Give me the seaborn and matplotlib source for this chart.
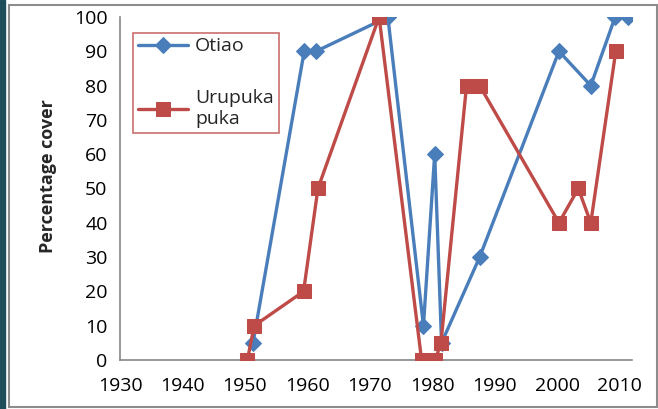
import matplotlib
matplotlib.use("Agg")
import matplotlib.pyplot as plt
import seaborn as sns
import pandas as pd
from matplotlib.patches import Rectangle

# Data
otiao_year = [1951.3, 1959.5, 1961.4, 1972.9, 1978.6, 1980.4, 1981.5, 1987.6, 2000.3, 2005.4, 2009.3, 2011.4]
otiao_cover = [5, 90, 90, 100, 10, 60, 5, 30, 90, 80, 100, 100]
urup_year = [1950.4, 1951.5, 1959.4, 1961.7, 1971.5, 1978.3, 1980.5, 1981.4, 1985.5, 1987.6, 2000.3, 2003.4, 2005.4, 2009.4]
urup_cover = [0, 10, 20, 50, 100, 0, 0, 5, 80, 80, 40, 50, 40, 90]
series_names = ["Otiao", "Urupuka\npuka"]
x_ticks = [1930, 1940, 1950, 1960, 1970, 1980, 1990, 2000, 2010]
y_ticks = [0, 10, 20, 30, 40, 50, 60, 70, 80, 90, 100]

sns.set_theme(style="white")
plt.rcParams['font.family'] = ['Open Sans', 'DejaVu Sans']

blue = "#4A7EBB"
red = "#BE4B48"
axis_gray = "#868686"

fig = plt.figure(figsize=(6.58, 4.09), dpi=100)
# slide background strip on the left and chart border
fig.patches.append(Rectangle((0, 0), 5 / 658, 1, transform=fig.transFigure, color="#1E4D5B", zorder=0))
fig.patches.append(Rectangle((8.5 / 658, 2 / 409), 648 / 658, 402.5 / 409, transform=fig.transFigure,
                             fill=False, edgecolor="#8C8C8C", linewidth=1.5, zorder=0))

ax = fig.add_axes([120 / 658, 1 - 360 / 409, 512 / 658, 343 / 409])

df_o = pd.DataFrame({"year": otiao_year, "cover": otiao_cover})
df_u = pd.DataFrame({"year": urup_year, "cover": urup_cover})

sns.lineplot(data=df_o, x="year", y="cover", ax=ax, sort=False, color=blue, linewidth=2.4,
             marker="D", markersize=8.5, markeredgecolor=blue, label=series_names[0], zorder=3)
sns.lineplot(data=df_u, x="year", y="cover", ax=ax, sort=False, color=red, linewidth=2.4,
             marker="s", markersize=10.5, markeredgecolor=red, label=series_names[1], zorder=4)

ax.set_xlim(1930, 2012)
ax.set_ylim(0, 100)
ax.set_xticks(x_ticks)
ax.set_yticks(y_ticks)
ax.tick_params(axis="both", which="major", labelsize=14, colors="black", length=5, width=1,
               direction="out", color=axis_gray, pad=4)
ax.tick_params(axis="x", pad=7)
for s in ["top", "right"]:
    ax.spines[s].set_visible(False)
for s in ["left", "bottom"]:
    ax.spines[s].set_color(axis_gray)
    ax.spines[s].set_linewidth(1.2)
ax.set_xlabel("")
ax.set_ylabel("Percentage cover", fontsize=13, fontweight="bold")
ax.yaxis.set_label_coords(-0.123, 0.535)
ax.grid(False)

leg = ax.legend(loc="upper left", bbox_to_anchor=(0.006, 0.983), fontsize=14, frameon=True,
                fancybox=False, edgecolor=red, handlelength=2.6, labelspacing=1.75,
                borderpad=0.25, handletextpad=0.35)
leg.get_frame().set_linewidth(1.2)

fig.savefig("out.png", dpi=100)
